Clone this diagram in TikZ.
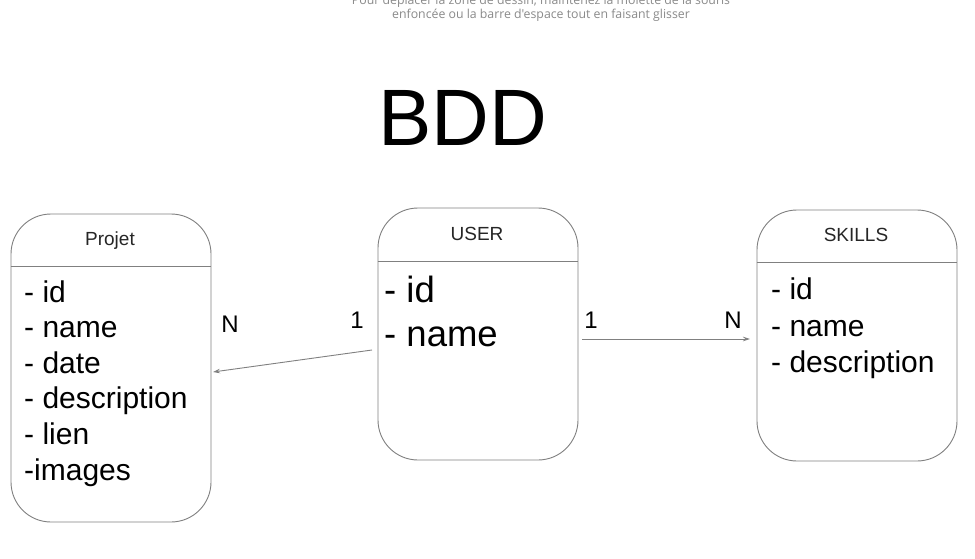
\documentclass[tikz,border=0pt]{standalone}
\usepackage{fontspec}
\setmainfont{Liberation Sans}
\newfontfamily\hintfont{Open Sans}
\usetikzlibrary{arrows.meta}
\definecolor{edgegray}{HTML}{808080}
\definecolor{hintgray}{HTML}{8A8A8A}
\tikzset{
  entity/.style={draw=edgegray, line width=0.9pt, rounded corners=40pt, inner sep=0pt},
  divider/.style={draw=edgegray, line width=0.9pt},
  title/.style={anchor=base, inner sep=0pt, font=\fontsize{19}{22}\selectfont, text=black!85},
  attr/.style={anchor=base west, inner sep=0pt, font=\fontsize{30}{36}\selectfont},
  attrbig/.style={anchor=base west, inner sep=0pt, font=\fontsize{36.5}{44}\selectfont},
  card/.style={anchor=base, inner sep=0pt, font=\fontsize{24}{28}\selectfont},
  conn/.style={draw=edgegray, line width=0.9pt, -{Stealth[length=7pt,width=4.5pt]}},
  hint/.style={anchor=base, inner sep=0pt, text=hintgray, font=\hintfont\fontsize{12.3}{14}\selectfont}
}
\begin{document}
\begin{tikzpicture}[x=1pt,y=-1pt]
\useasboundingbox (0,0) rectangle (975,559);
\fill[white] (0,0) rectangle (975,559);
% hint text
\node[hint] (hint1) at (541,5) {Pour déplacer la zone de dessin, maintenez la molette de la souris};
\node[hint] (hint2) at (541,19) {enfoncée ou la barre d'espace tout en faisant glisser};
% title
\node[anchor=base, inner sep=0pt, font=\fontsize{80}{88}\selectfont] (bdd) at (463,146) {BDD};
% boxes
\node[entity, minimum width=200pt, minimum height=308pt] (projet) at (111,368) {};
\node[entity, minimum width=200pt, minimum height=252pt] (user) at (478,334) {};
\node[entity, minimum width=200pt, minimum height=251pt] (skills) at (857,335.5) {};
\draw[divider] (projet.west |- 0,266) -- (projet.east |- 0,266);
\draw[divider] (user.west |- 0,261) -- (user.east |- 0,261);
\draw[divider] (skills.west |- 0,262) -- (skills.east |- 0,262);
% titles
\node[title] (tprojet) at (110,245) {Projet};
\node[title] (tuser) at (477,240) {USER};
\node[title] (tskills) at (856,241.5) {SKILLS};
% Projet attributes
\node[attr] (p1) at (24,302) {- id};
\node[attr] (p2) at (24,337.5) {- name};
\node[attr] (p3) at (24,373) {- date};
\node[attr] (p4) at (24,408.5) {- description};
\node[attr] (p5) at (24,444) {- lien};
\node[attr] (p6) at (24,480) {-images};
% User attributes
\node[attrbig] (u1) at (384,302) {- id};
\node[attrbig] (u2) at (384,346.5) {- name};
% Skills attributes
\node[attr] (s1) at (771,299.5) {- id};
\node[attr] (s2) at (771,336) {- name};
\node[attr] (s3) at (771,372.5) {- description};
% connectors
\coordinate (c1s) at (372,350);
\coordinate (c1e) at (213,372);
\coordinate (c2s) at (582,339);
\coordinate (c2e) at (750,339);
\draw[conn] (c1s) -- (c1e);
\draw[conn] (c2s) -- (c2e);
% cardinalities
\node[card] (n1) at (230,332.5) {N};
\node[card] (o1) at (357,328.5) {1};
\node[card] (o2) at (591,328.5) {1};
\node[card] (n2) at (733,328.5) {N};
\end{tikzpicture}
\end{document}
